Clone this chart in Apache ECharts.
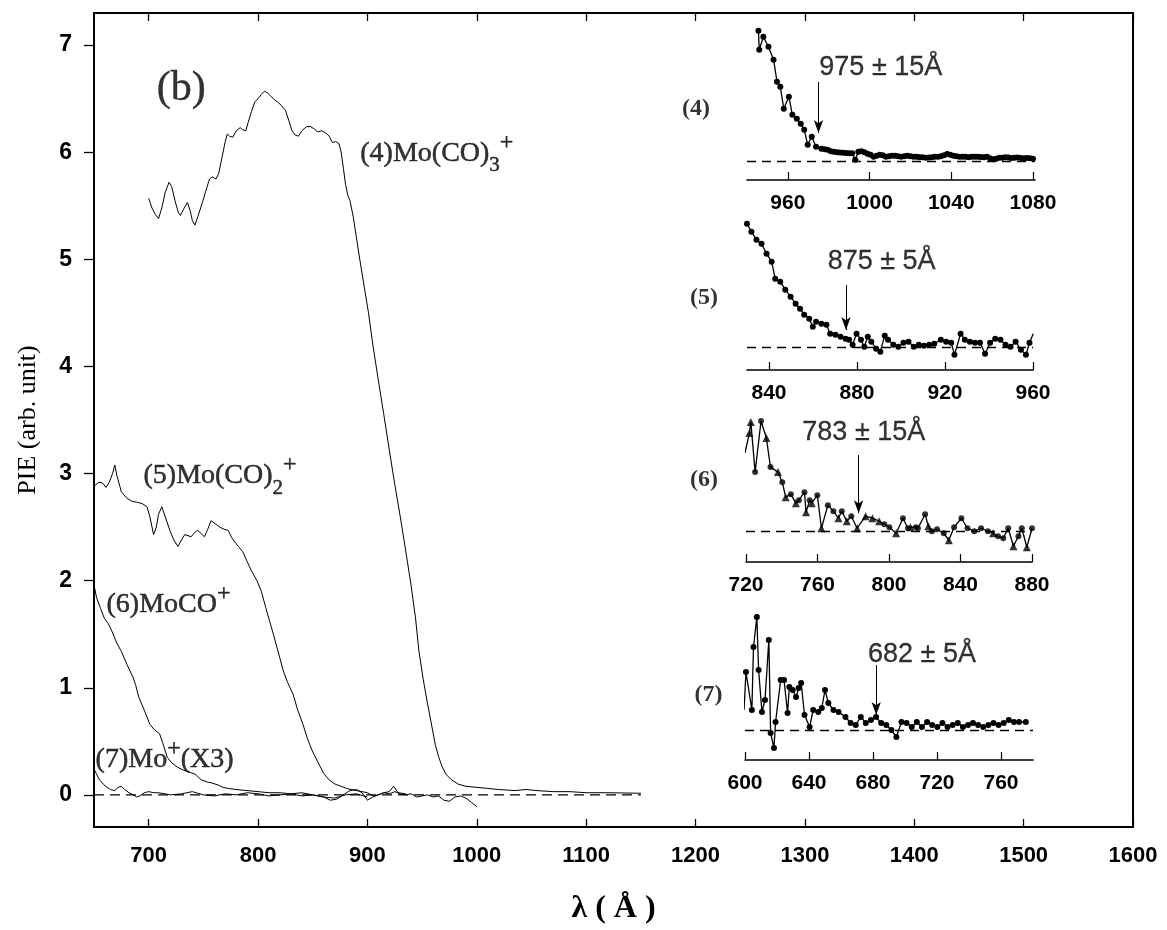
<!DOCTYPE html>
<html><head><meta charset="utf-8">
<script src="https://cdn.jsdelivr.net/npm/echarts@6/dist/echarts.min.js"></script>
<style>html,body{margin:0;padding:0;background:#fff}#c{width:1167px;height:930px}</style>
</head><body><div id="c"></div>
<script>
// ---------------- DATA ----------------
const mainXTicks = [700, 800, 900, 1000, 1100, 1200, 1300, 1400, 1500, 1600];
const mainYTicks = [0, 1, 2, 3, 4, 5, 6, 7];

// (4) Mo(CO)3+
const s4 = [[700,5.57],[703,5.48],[706,5.42],[709,5.38],[712,5.48],[715,5.62],[718.6,5.72],[721,5.68],[724,5.55],[727,5.44],[729,5.41],[732,5.47],[735.5,5.53],[738,5.45],[740,5.36],[742.3,5.32],[745,5.4],[749.7,5.55],[752,5.63],[755.6,5.75],[758,5.77],[761.5,5.75],[764,5.8],[767,5.95],[770,6.1],[771.9,6.17],[774,6.15],[776.9,6.14],[780,6.2],[783.7,6.23],[786,6.21],[788.8,6.2],[791,6.28],[794,6.38],[797,6.47],[800,6.5],[803,6.54],[805.9,6.57],[809,6.55],[812,6.52],[815,6.49],[817.8,6.47],[821,6.44],[825.1,6.39],[828,6.3],[831,6.2],[834,6.16],[837,6.15],[840,6.2],[844.4,6.24],[848,6.24],[851,6.22],[854.7,6.19],[858,6.2],[862,6.18],[865,6.15],[868,6.09],[871,6.1],[874,6.08],[876,6.0],[878,5.85],[880,5.7],[882,5.6],[884,5.55],[887,5.4],[890,5.2],[893,5.0],[897,4.75],[901,4.5],[905,4.2],[910,3.87],[915,3.55],[920,3.22],[925,2.9],[930,2.6],[935,2.28],[940,1.95],[944,1.65],[947,1.35],[951,1.08],[955,0.85],[958,0.69],[962,0.47],[965,0.36],[968,0.27],[972,0.19],[977,0.14],[983,0.1],[990,0.08],[1000,0.07],[1010,0.06],[1020,0.05],[1035,0.04],[1045,0.05],[1055,0.04],[1070,0.03],[1085,0.03],[1100,0.02],[1120,0.02],[1150,0.015]];

// (5) Mo(CO)2+
const s5 = [[650,2.88],[651.5,2.89],[654.5,2.92],[658,2.91],[661,2.87],[664,2.92],[667,3.0],[669,3.08],[671,2.98],[675,2.83],[680,2.77],[685,2.74],[690,2.73],[694,2.72],[698.5,2.69],[701,2.6],[704.5,2.43],[707,2.5],[709,2.62],[712,2.69],[715,2.6],[719.7,2.46],[723,2.38],[726.7,2.32],[730,2.38],[733,2.43],[736,2.42],[738.8,2.41],[742,2.45],[744.8,2.47],[748,2.44],[751,2.41],[754,2.48],[757,2.56],[761,2.53],[765,2.5],[769,2.48],[772.7,2.47],[776,2.4],[778.8,2.36],[782,2.32],[786,2.27],[790,2.18],[794,2.09],[799,2.0],[803,1.9],[807,1.75],[810.6,1.62],[814,1.5],[818,1.35],[823,1.16],[827,1.05],[832,0.94],[836,0.8],[841,0.66],[845,0.53],[849.6,0.41],[855,0.3],[860,0.2],[865,0.14],[870.5,0.1],[876,0.08],[881,0.06],[885,0.05],[890,0.04],[895,0.03],[900,0.02],[905,-0.01],[910,0.0],[915,0.02],[920,0.01],[925,0.03],[930,0.01],[935,0.0],[940,0.01],[945,-0.02],[950,-0.01],[955,0.0],[960,-0.02],[965,-0.01],[970,-0.05],[975,-0.06],[980,-0.02],[985,-0.01],[990,-0.03],[995,-0.07],[1000,-0.11]];

// (6) MoCO+
const s6 = [[650,1.96],[652.4,1.84],[656,1.74],[659.4,1.65],[663,1.6],[666.3,1.53],[670.7,1.42],[675,1.34],[680,1.22],[685.6,1.10],[688,1.03],[691,0.91],[696,0.79],[701,0.66],[705,0.61],[710,0.57],[713,0.48],[717,0.35],[721,0.3],[726,0.26],[732,0.23],[738,0.21],[743,0.19],[748,0.14],[753.6,0.12],[758,0.11],[764,0.09],[768,0.07],[773,0.06],[780,0.05],[790,0.04],[800,0.03],[810,0.02],[820,0.02],[830,0.01],[840,0.02],[850,0.0],[860,-0.02],[866,-0.05],[872,-0.04],[878,0.0],[884,0.04],[890,0.05],[895,0.02],[900,-0.05],[905,-0.02],[910,0.0],[915,0.02],[920,0.03],[924,0.08],[928,0.02],[935,0.01]];

// (7) Mo+ (x3)
const s7 = [[650,0.24],[652,0.2],[655,0.14],[658.5,0.10],[662,0.07],[665,0.05],[669,0.04],[672,0.07],[675,0.08],[678,0.05],[682,0.02],[686,0.0],[689,-0.02],[692,-0.01],[696,0.02],[700,0.03],[705,0.02],[709,0.02],[720,0.0],[730,0.01],[740,0.03],[750,0.0],[760,-0.01],[770,0.01],[780,0.0],[790,0.02],[800,0.01],[810,-0.01],[820,0.0],[830,0.01],[840,-0.01],[850,0.0],[860,-0.02],[870,-0.03],[880,0.0],[890,0.01],[900,-0.02]];

const zeroLine = [[650,0],[1150,0]];

// insets (y in arbitrary units)
const in4Ticks = [960, 1000, 1040, 1080];
const in4 = [[945.6,13.1],[946.0,11.2],[948.0,12.5],[950.5,11.5],[953.0,10.2],[954.7,8.0],[956.3,7.5],[958.0,5.3],[960.5,6.5],[962.2,4.7],[964.4,4.3],[966.3,3.8],[968.0,3.2],[969.7,1.7],[971.7,2.5],[973.8,1.5],[976.4,1.3],[978,1.25],[979.5,1.2],[981,1.05],[982.5,1.0],[984,0.95],[985.5,0.92],[987,0.9],[988.5,0.88],[990,0.85],[991.5,0.85],[993,0.2],[994.5,1.0],[996,1.05],[997.5,0.95],[999,0.8],[1000.5,0.7],[1002,0.5],[1003.5,0.6],[1005,0.7],[1006.5,0.65],[1008,0.5],[1009.5,0.55],[1011,0.6],[1012.5,0.6],[1014,0.55],[1015.5,0.5],[1017,0.55],[1018.5,0.6],[1020,0.55],[1021.5,0.5],[1023,0.5],[1024.5,0.45],[1026,0.45],[1027.5,0.4],[1029,0.42],[1030.5,0.45],[1032,0.5],[1033.5,0.5],[1035,0.55],[1036.5,0.65],[1038,0.78],[1039.5,0.7],[1041,0.6],[1042.5,0.55],[1044,0.5],[1045.5,0.5],[1047,0.5],[1048.5,0.45],[1050,0.5],[1051.5,0.5],[1053,0.5],[1054.5,0.48],[1056,0.45],[1057.5,0.5],[1059,0.35],[1060.5,0.25],[1062,0.3],[1063.5,0.4],[1065,0.4],[1066.5,0.45],[1068,0.42],[1069.5,0.38],[1071,0.4],[1072.5,0.42],[1074,0.38],[1075.5,0.35],[1077,0.38],[1078.5,0.35],[1080,0.3]];
const in4Edge = 975;

const in5Ticks = [840, 880, 920, 960];
const in5 = [[830,12.4],[832,11.6],[834.3,10.8],[836.6,10.4],[838.9,9.4],[841.2,8.6],[842.8,6.9],[845.1,6.6],[847.4,5.8],[849.8,5.1],[852.1,4.4],[854.1,3.9],[856,3.3],[858.3,2.9],[859.9,2.1],[861.4,2.6],[863.8,2.4],[866.1,2.3],[867.8,1.4],[870.2,1.3],[872.5,1.1],[874.8,0.9],[876.4,0.8],[878,0.3],[879.8,1.4],[881.8,0.8],[883.3,0.1],[884.9,1.1],[886.5,0.6],[888.7,-0.1],[890.6,-0.4],[892.6,1.2],[894.1,0.8],[896.5,0.3],[898.8,0.1],[901.1,0.5],[903.4,0.6],[905.8,0.1],[908.1,0.3],[910.4,0.2],[912.8,0.3],[915.1,0.4],[918.1,0.8],[920.5,0.6],[922.8,0.5],[924.3,-0.7],[927.1,1.4],[929,0.8],[931.3,0.6],[933.6,0.5],[935.9,0.5],[938.2,-0.6],[940.5,0.5],[942.8,0.9],[945.2,0.8],[947.5,0.3],[949.8,0.1],[952.1,0.6],[954.5,-0.2],[956.8,-0.7],[958.4,0.5],[960.1,1.4]];
const in5Edge = 875;

const in6Ticks = [720, 760, 800, 840, 880];
const in6Tri = [[719.4,7.8],[721.9,9.8],[722.7,10.9],[731.4,9.3],[737.9,5.9],[742.2,3.4],[747.9,2.8],[753.6,1.9],[756.8,2.8],[762.2,0.3],[771.7,1.3],[776.4,1.0],[782.2,0.3],[786.9,1.5],[790.7,1.3],[794.5,1.0],[804.0,-0.2],[812,0.4],[822,0.5],[833.5,-0.9],[858.2,-0.2],[869.6,-1.5],[877.1,-1.6]];
const in6Dot = [[725.1,5.9],[728.4,11.0],[733.7,6.4],[740.3,4.9],[745.1,3.7],[749.6,3.1],[752.7,3.9],[755.6,3.1],[759.9,3.6],[765.8,2.6],[768.9,2.0],[773.6,2.0],[778.9,1.5],[797.4,0.7],[800.2,0.4],[807.8,1.3],[810.6,0.3],[815,0.4],[816.2,0.3],[820.2,1.7],[824,0.0],[826.9,0.2],[830.6,-0.2],[836.4,0.4],[840.5,1.3],[843.9,0.3],[847.7,0.0],[851.5,0.3],[855.3,0.0],[861,-0.5],[863.9,-0.7],[866.7,0.3],[872.4,-0.5],[874.3,0.3],[880,0.3]];
const in6Edge = 783;

const in7Ticks = [600, 640, 680, 720, 760];
const in7 = [[599.4,2.0],[600.6,5.8],[604.3,2.0],[605.3,8.3],[607.4,11.3],[608.5,6.0],[610.6,1.8],[612.5,3.0],[614.9,9.0],[616,-0.3],[618.1,-1.8],[619.1,0.8],[622.3,5.0],[624.4,5.0],[626.6,1.7],[627.7,4.3],[629.8,4.0],[631.9,3.3],[633.5,4.2],[635.1,4.7],[637.2,1.5],[640.4,0.3],[642.6,2.0],[645.8,1.8],[648,2.2],[650,4.0],[652.1,2.7],[655.3,2.0],[658.5,1.8],[662.8,1.3],[666,0.7],[669.2,0.5],[672.4,1.3],[675.5,0.7],[678.7,1.0],[681.9,1.3],[685.1,0.7],[688.3,0.5],[691.5,0.0],[694.6,-0.7],[697.8,0.8],[701,0.7],[704.2,0.3],[707.4,0.8],[710.6,0.3],[713.8,0.8],[717,0.5],[720.2,0.3],[723.4,0.7],[726.6,0.3],[729.8,0.5],[733,0.7],[736.2,0.3],[739.4,0.5],[742.5,0.7],[745.7,0.5],[748.9,0.3],[752.1,0.5],[755.3,0.7],[758.5,0.5],[761.7,0.7],[764.9,1.0],[768.1,0.8],[771.3,0.8],[775.5,0.8]];
const in7Edge = 682;

// texts
const txt = {
  b: '(b)',
  l4: '{b|(4)Mo(CO)}{sub|3}{sup|+}',
  l5: '{b|(5)Mo(CO)}{sub|2}{sup|+}',
  l6: '{b|(6)MoCO}{sup|+}',
  l7: '{b|(7)Mo}{sup|+}{b|(X3)}',
  e4: '975 ± 15Å', e5: '875 ± 5Å', e6: '783 ± 15Å', e7: '682 ± 5Å',
  n4: '(4)', n5: '(5)', n6: '(6)', n7: '(7)',
  xName: 'λ ( Å )', yName: 'PIE (arb. unit)'
};

// ---------------- LAYOUT (positions of annotations) ----------------
const lay = {
  b: [707, 6.59], l4: [893, 5.99], l5: [694.8, 2.98], l6: [661, 1.78], l7: [651, 0.33],
  n4: [1200.4, 6.41], n5: [1207.7, 4.64], n6: [1207.7, 2.94], n7: [1211.8, 0.93],
  e4: [1005.5, 9.37], a4: [7.97, 2.87],
  e5: [891.2, 8.57], a5: [6.27, 1.77],
  e6: [785.9, 9.8], a6: [7.6, 1.8],
  e7: [710.6, 7.5], a7: [6.5, 1.5]
};

const SANS = 'Liberation Sans', SERIF = 'Liberation Serif';
const K = '#000';
const plain = v => String(v);

const rich = {
  b: {fontFamily: SERIF, fontSize: 28, lineHeight: 46, verticalAlign: 'middle', color: K, textBorderColor: K, textBorderWidth: 0.5},
  sub: {fontFamily: SERIF, fontSize: 21, verticalAlign: 'bottom', color: K, textBorderColor: K, textBorderWidth: 0.5},
  sup: {fontFamily: SERIF, fontSize: 24, lineHeight: 14, verticalAlign: 'top', color: K, textBorderColor: K, textBorderWidth: 0.5}
};

function mainLine(d) {
  return {type: 'line', xAxisIndex: 0, yAxisIndex: 0, data: d, symbol: 'none', showSymbol: false,
    lineStyle: {color: K, width: 1}, z: 3, silent: true};
}
function textPt(xi, yi, pos, fmt, style, position) {
  return {type: 'scatter', xAxisIndex: xi, yAxisIndex: yi, data: [pos], symbolSize: 1,
    itemStyle: {color: 'rgba(0,0,0,0)'}, clip: false, silent: true, z: 10,
    label: Object.assign({show: true, position: position || 'right', distance: 0, formatter: fmt, color: K}, style)};
}
function insetX(gi, min, max, ticks) {
  return {gridIndex: gi, type: 'value', min: min, max: max, position: 'bottom',
    axisLine: {show: true, onZero: false, lineStyle: {color: K, width: 1.6}},
    axisTick: {show: true, inside: true, length: 8, customValues: ticks, lineStyle: {color: K, width: 1.2}},
    axisLabel: {show: true, customValues: ticks, formatter: plain, margin: 13, fontFamily: SANS, fontWeight: 'bold', fontSize: 21, color: K},
    splitLine: {show: false}};
}
function insetY(gi, min, max) {
  return {gridIndex: gi, type: 'value', min: min, max: max, show: false, splitLine: {show: false}};
}
function insetSeries(xi, d, sym, size) {
  return {type: 'line', xAxisIndex: xi, yAxisIndex: xi, data: d, symbol: sym, symbolSize: size,
    showSymbol: sym !== 'none', itemStyle: {color: K}, lineStyle: {color: K, width: 1.3}, silent: true, z: 4,
    markLine: {silent: true, symbol: 'none', label: {show: false},
      lineStyle: {color: K, width: 1.3, type: [9, 6]}, data: [{yAxis: 0}]}};
}
function arrow(xi, x, a) {
  return {type: 'line', xAxisIndex: xi, yAxisIndex: xi, data: [], silent: true,
    markLine: {silent: true, symbol: ['none', 'arrow'], symbolSize: [7, 13], label: {show: false},
      lineStyle: {color: K, width: 1, type: 'solid'},
      data: [[{coord: [x, a[0]]}, {coord: [x, a[1]]}]]}};
}

const annStyle = {fontFamily: SANS, fontSize: 27, textBorderColor: K, textBorderWidth: 0.3};
const nStyle = {fontFamily: SERIF, fontWeight: 'bold', fontSize: 24};

const in6All = in6Tri.concat(in6Dot).sort((p, q) => p[0] - q[0]);

const option = {
  animation: false,
  backgroundColor: '#fff',
  grid: [
    {left: 94, top: 13, width: 1039, height: 816},
    {left: 747, top: 28, width: 288, height: 152},
    {left: 747, top: 215, width: 286, height: 155},
    {left: 746, top: 415, width: 286, height: 147},
    {left: 745, top: 612, width: 288, height: 148}
  ],
  xAxis: [
    {gridIndex: 0, type: 'value', min: 650, max: 1600, position: 'bottom',
      axisLine: {show: true, onZero: false, lineStyle: {color: K, width: 2}},
      axisTick: {show: true, inside: true, length: 8, customValues: mainXTicks, lineStyle: {color: K, width: 1.3}},
      axisLabel: {customValues: mainXTicks, formatter: plain, margin: 18, fontFamily: SANS, fontWeight: 'bold', fontSize: 22, color: K},
      splitLine: {show: false},
      name: txt.xName, nameLocation: 'middle', nameGap: 66,
      nameTextStyle: {fontFamily: SERIF, fontWeight: 'bold', fontSize: 32, color: K}},
    {gridIndex: 0, type: 'value', min: 650, max: 1600, position: 'top',
      axisLine: {show: true, onZero: false, lineStyle: {color: K, width: 2}},
      axisTick: {show: true, inside: true, length: 8, customValues: mainXTicks, lineStyle: {color: K, width: 1.3}},
      axisLabel: {show: false}, splitLine: {show: false}},
    insetX(1, 940, 1081, in4Ticks),
    insetX(2, 830, 960, in5Ticks),
    insetX(3, 720, 880, in6Ticks),
    insetX(4, 600, 780, in7Ticks)
  ],
  yAxis: [
    {gridIndex: 0, type: 'value', min: -0.3, max: 7.3, position: 'left',
      axisLine: {show: true, onZero: false, lineStyle: {color: K, width: 2}},
      axisTick: {show: true, inside: false, length: 10, customValues: mainYTicks, lineStyle: {color: K, width: 1.3}},
      axisLabel: {customValues: mainYTicks, formatter: plain, margin: 22, fontFamily: SANS, fontWeight: 'bold', fontSize: 23, color: K},
      splitLine: {show: false},
      name: txt.yName, nameLocation: 'middle', nameGap: 53,
      nameTextStyle: {fontFamily: SERIF, fontSize: 26, color: K}},
    {gridIndex: 0, type: 'value', min: -0.3, max: 7.3, position: 'right',
      axisLine: {show: true, onZero: false, lineStyle: {color: K, width: 2}},
      axisTick: {show: false}, axisLabel: {show: false}, splitLine: {show: false}},
    insetY(1, -1.83, 13.37),
    insetY(2, -2.23, 13.27),
    insetY(3, -3.07, 11.6),
    insetY(4, -3.0, 11.8)
  ],
  series: [
    {type: 'line', xAxisIndex: 0, yAxisIndex: 0, data: zeroLine, symbol: 'none', silent: true,
      lineStyle: {color: K, width: 1.2, type: [10, 6]}, z: 2},
    mainLine(s4), mainLine(s5), mainLine(s6), mainLine(s7),
    textPt(0, 0, lay.b, txt.b, {fontFamily: SERIF, fontSize: 42, textBorderColor: K, textBorderWidth: 0.4}),
    textPt(0, 0, lay.l4, txt.l4, {rich: rich}),
    textPt(0, 0, lay.l5, txt.l5, {rich: rich}),
    textPt(0, 0, lay.l6, txt.l6, {rich: rich}),
    textPt(0, 0, lay.l7, txt.l7, {rich: rich}),
    textPt(0, 0, lay.n4, txt.n4, nStyle, 'inside'),
    textPt(0, 0, lay.n5, txt.n5, nStyle, 'inside'),
    textPt(0, 0, lay.n6, txt.n6, nStyle, 'inside'),
    textPt(0, 0, lay.n7, txt.n7, nStyle, 'inside'),

    insetSeries(2, in4, 'circle', 6),
    arrow(2, in4Edge, lay.a4),
    textPt(2, 2, lay.e4, txt.e4, annStyle, 'inside'),

    insetSeries(3, in5, 'circle', 6),
    arrow(3, in5Edge, lay.a5),
    textPt(3, 3, lay.e5, txt.e5, annStyle, 'inside'),

    insetSeries(4, in6All, 'none', 0),
    {type: 'scatter', xAxisIndex: 4, yAxisIndex: 4, data: in6Tri, symbol: 'triangle', symbolSize: 8, itemStyle: {color: K}, silent: true, z: 5},
    {type: 'scatter', xAxisIndex: 4, yAxisIndex: 4, data: in6Dot, symbol: 'circle', symbolSize: 6, itemStyle: {color: K}, silent: true, z: 5},
    arrow(4, in6Edge, lay.a6),
    textPt(4, 4, lay.e6, txt.e6, annStyle, 'inside'),

    insetSeries(5, in7, 'circle', 6),
    arrow(5, in7Edge, lay.a7),
    textPt(5, 5, lay.e7, txt.e7, annStyle, 'inside')
  ]
};

const chart = echarts.init(document.getElementById('c'), null, {renderer: 'canvas'});
chart.setOption(option);
</script></body></html>
